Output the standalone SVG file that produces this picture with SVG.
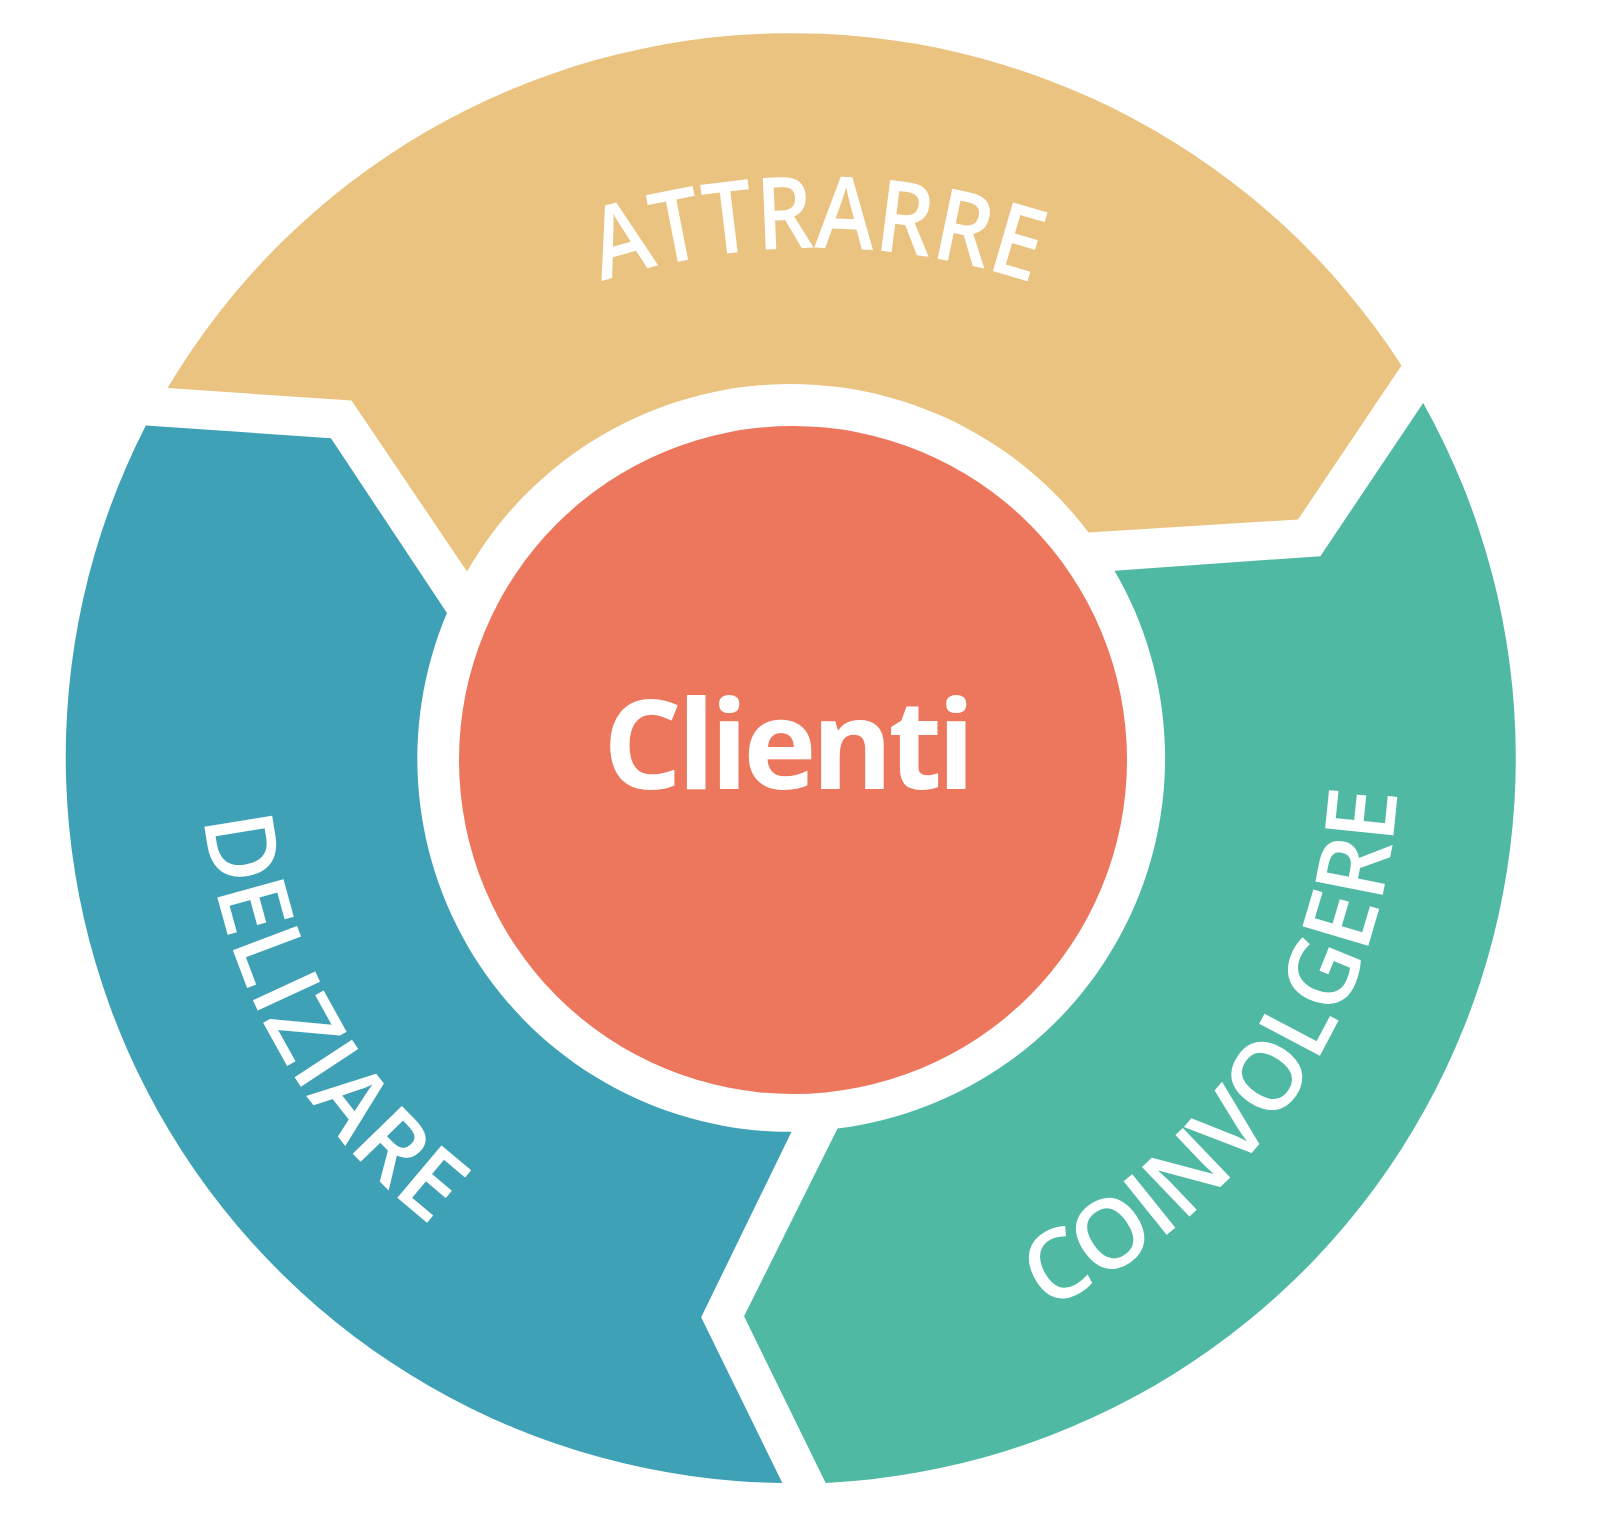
<svg xmlns="http://www.w3.org/2000/svg" xmlns:xlink="http://www.w3.org/1999/xlink" width="1600" height="1518" viewBox="0 0 1600 1518">
  <style>
    .lbl { fill: #ffffff; font-family: "Open Sans", "Lato", "Liberation Sans", sans-serif; font-weight: 600; }
    .big { font-weight: 700; }
    .y { fill: #EAC381; }
    .b { fill: #3FA1B5; }
    .g { fill: #4FB9A3; }
    .c { fill: #EC775D; }
  </style>
  <defs>
    <path id="seg" d="M 167.5 388 A 726 726 0 0 1 1401.5 365.5 L 1298 519.5 L 1088.5 532.5 A 373 373 0 0 0 467 571.5 L 351.5 400.5 Z"/>
    <path id="arcTop" d="M 284.9 495.2 A 692 692 0 0 1 1345.1 495.2" fill="none"/>
    <path id="arcLeft" d="M 221.1 605.3 A 590 590 0 0 0 638.3 1327.9" fill="none"/>
    <path id="arcRight" d="M 844 1363.7 A 610 610 0 0 0 1362.3 550.1" fill="none"/>
  </defs>
  <rect width="1600" height="1518" fill="#ffffff"/>
  <g id="connectors"></g>
  <g id="attrarre">
    <use xlink:href="#seg" href="#seg" class="y"/>
    <text class="lbl" font-size="100" text-anchor="middle"><textPath xlink:href="#arcTop" href="#arcTop" startOffset="606" textLength="438" lengthAdjust="spacingAndGlyphs">ATTRARRE</textPath></text>
  </g>
  <g id="coinvolgere">
    <use xlink:href="#seg" href="#seg" class="g" transform="rotate(120 791 758)"/>
    <text class="lbl" font-size="96" text-anchor="middle"><textPath xlink:href="#arcRight" href="#arcRight" startOffset="538" textLength="658" lengthAdjust="spacingAndGlyphs">COINVOLGERE</textPath></text>
  </g>
  <g id="deliziare">
    <use xlink:href="#seg" href="#seg" class="b" transform="rotate(-120 791 758)"/>
    <text class="lbl" font-size="96" text-anchor="middle"><textPath xlink:href="#arcLeft" href="#arcLeft" startOffset="454.6" textLength="481" lengthAdjust="spacing">DELIZIARE</textPath></text>
  </g>
  <g id="clienti">
    <circle cx="793" cy="760" r="334" class="c"/>
    <text class="lbl big" x="789" y="789" font-size="124" text-anchor="middle" textLength="372" lengthAdjust="spacing">Clienti</text>
  </g>
</svg>
